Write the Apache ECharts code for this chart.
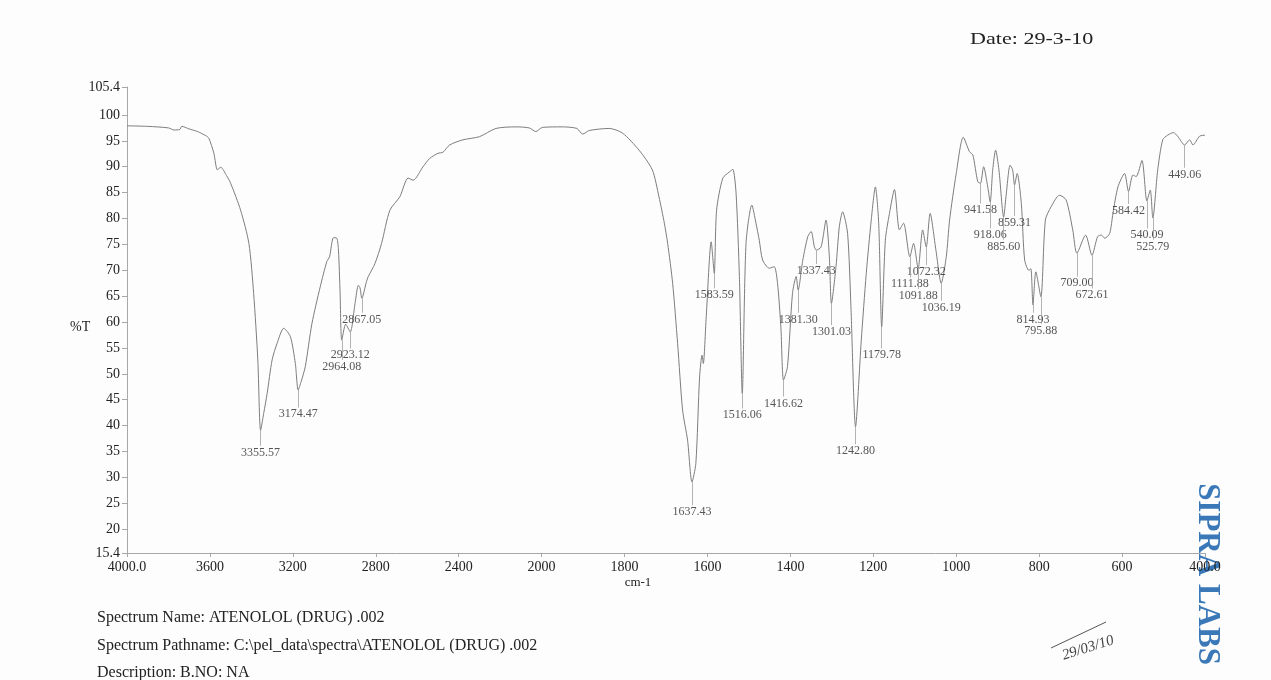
<!DOCTYPE html>
<html>
<head>
<meta charset="utf-8">
<title>ATENOLOL (DRUG) .002</title>
<script src="https://cdn.jsdelivr.net/npm/echarts@6/dist/echarts.min.js"></script>
<style>
html, body { margin: 0; padding: 0; background: #fdfdfd; }
#chart { width: 1271px; height: 680px; }
</style>
</head>
<body>
<div id="chart"></div>
<script>
// trace: wavenumber (cm-1) and %T
var waveNumbers = [
    4000, 3900, 3800, 3773, 3745, 3736, 3700, 3660, 3620, 3605,
    3581, 3564, 3548, 3520, 3500, 3452, 3412, 3389, 3369, 3355.57,
    3340, 3324, 3300, 3276, 3244, 3212, 3188, 3174.47, 3160, 3140,
    3108, 3068, 3036, 3023, 3004, 2988, 2980, 2972, 2964.08, 2945,
    2923.12, 2900, 2884, 2876, 2867.05, 2845, 2836, 2804, 2772, 2732,
    2684, 2644, 2620, 2572, 2540, 2500, 2476, 2444, 2380, 2300,
    2220, 2124, 2060, 2028, 1998, 1950, 1915, 1901, 1885, 1837,
    1805, 1765, 1733, 1717, 1704, 1696, 1684, 1672, 1660, 1648,
    1637.43, 1628, 1619, 1613, 1610, 1603, 1591, 1583.59, 1578, 1563,
    1547, 1539, 1531, 1523, 1516.06, 1507, 1493, 1483, 1475, 1467,
    1451, 1439, 1431, 1423, 1416.62, 1407, 1395, 1386, 1381.30, 1370,
    1358, 1350, 1342, 1337.43, 1326, 1314, 1306, 1301.03, 1290, 1282,
    1274, 1262, 1254, 1242.80, 1229, 1217, 1205, 1195, 1187, 1179.78,
    1171, 1161, 1149, 1137, 1127, 1111.88, 1103, 1091.88, 1081, 1072.32,
    1063, 1049, 1036.19, 1024, 1016, 1000, 983, 968, 960, 948,
    941.58, 934, 924, 918.06, 912, 905, 897, 885.60, 880, 870,
    864, 859.31, 853, 843, 835, 825, 820, 814.93, 808, 795.88,
    785, 771, 751, 735, 719, 709.00, 688, 672.61, 659, 650,
    642, 630, 622, 610, 594, 584.42, 574, 566, 552, 540.09,
    532, 525.79, 514, 502, 490, 476, 466, 449.06, 437, 429,
    413, 400
];
var transmittance = [
    97.9, 97.8, 97.5, 97.1, 97.2, 97.8, 97.3, 96.8, 96.0, 95.5,
    92.6, 89.4, 89.9, 88.3, 86.8, 81.6, 75.2, 65.5, 52.7, 39.1,
    42.5, 46.2, 52.7, 55.9, 58.8, 57.2, 52.0, 46.9, 48.5, 51.4,
    59.7, 66.8, 71.7, 72.6, 76.3, 76.2, 73.9, 65.5, 56.5, 59.6,
    58.1, 63.6, 67.1, 66.6, 64.6, 67.8, 68.8, 71.3, 75.2, 81.6,
    84.2, 87.8, 87.4, 90.0, 91.6, 92.6, 92.8, 94.2, 95.2, 95.8,
    97.4, 97.7, 97.5, 96.8, 97.6, 97.7, 97.4, 96.3, 97.0, 97.4,
    96.5, 93.2, 89.4, 84.2, 79.1, 75.2, 67.5, 55.9, 43.0, 37.2,
    29.1, 32.7, 49.4, 53.6, 52.0, 61.0, 75.5, 69.4, 81.6, 87.8,
    89.0, 89.5, 84.9, 68.8, 46.2, 75.2, 82.6, 79.1, 75.8, 72.0,
    70.4, 70.7, 67.5, 59.1, 48.8, 51.4, 65.5, 68.8, 66.2, 72.0,
    76.5, 77.5, 74.5, 73.9, 74.5, 79.7, 72.6, 63.6, 70.7, 78.4,
    81.3, 77.1, 63.0, 39.8, 56.5, 69.4, 79.7, 86.1, 79.1, 59.1,
    75.8, 81.0, 85.6, 77.8, 79.1, 72.6, 75.2, 70.4, 77.8, 74.5,
    81.0, 73.9, 67.5, 72.6, 79.7, 88.7, 95.7, 92.9, 92.3, 87.1,
    86.8, 90.0, 86.1, 83.2, 89.4, 93.2, 89.4, 80.3, 84.2, 90.3,
    89.4, 86.5, 88.7, 82.9, 72.0, 70.0, 70.3, 63.3, 69.7, 64.9,
    79.7, 82.3, 84.5, 83.6, 77.8, 73.3, 76.8, 72.9, 76.5, 76.8,
    76.2, 77.1, 81.0, 86.1, 88.7, 85.2, 88.4, 88.1, 91.2, 83.4,
    85.5, 80.1, 89.4, 95.2, 96.1, 96.6, 95.9, 94.2, 95.2, 94.2,
    95.9, 96.1
];

// picked peaks and the %T level where each label sits
var peakNumbers = [
    3355.57, 3174.47, 2964.08, 2923.12, 2867.05, 1637.43, 1583.59, 1516.06,
    1416.62, 1381.30, 1337.43, 1301.03, 1242.80, 1179.78, 1111.88, 1091.88,
    1072.32, 1036.19, 941.58, 918.06, 885.60, 859.31, 814.93, 795.88,
    709.00, 672.61, 584.42, 540.09, 525.79, 449.06
];
var peakLabelLevels = [
    34.8, 42.2, 51.4, 53.6, 60.5, 23.3, 65.2, 42.0,
    44.3, 60.5, 69.9, 58.1, 35.1, 53.6, 67.3, 65.1,
    69.7, 62.8, 81.6, 76.8, 74.6, 79.2, 60.5, 58.3,
    67.5, 65.2, 81.5, 76.8, 74.6, 88.5
];

var xTickLabels = [4000, 3600, 3200, 2800, 2400, 2000, 1800, 1600, 1400, 1200, 1000, 800, 600, 400];
var yTickLabels = [15.4, 20, 25, 30, 35, 40, 45, 50, 55, 60, 65, 70, 75, 80, 85, 90, 95, 100, 105.4];

// the instrument halves the scale above 2000 cm-1
function toAxis(w) { return w > 2000 ? 2000 + (w - 2000) / 2 : w; }
function fromAxis(u) { return u > 2000 ? 2000 + (u - 2000) * 2 : u; }

function peakT(w) {
    for (var i = 0; i < waveNumbers.length; i++) {
        if (Math.abs(waveNumbers[i] - w) < 0.01) return transmittance[i];
    }
    return null;
}

var serif = '"Liberation Serif", "Times New Roman", serif';

var trace = waveNumbers.map(function (w, i) { return [toAxis(w), transmittance[i]]; });
var peakLabels = peakNumbers.map(function (w, i) {
    return { name: w.toFixed(2), value: [toAxis(w), peakLabelLevels[i]] };
});
var leaders = peakNumbers.map(function (w, i) {
    var u = toAxis(w);
    return [{ coord: [u, peakT(w)] }, { coord: [u, peakLabelLevels[i] + 1.3] }];
});
var xTicks = xTickLabels.map(toAxis);

var option = {
    backgroundColor: '#fdfdfd',
    animation: false,
    textStyle: { fontFamily: serif },
    grid: { left: 127, right: 66, top: 87, bottom: 127 },
    xAxis: {
        type: 'value',
        inverse: true,
        min: 400,
        max: 3000,
        axisLine: { lineStyle: { color: '#a8a8a8', width: 1 } },
        axisTick: { show: true, length: 4, customValues: xTicks, lineStyle: { color: '#a8a8a8' } },
        axisLabel: {
            customValues: xTicks,
            margin: 7,
            color: '#222',
            fontSize: 14,
            fontFamily: serif,
            formatter: function (v) {
                var w = Math.round(fromAxis(v));
                return (w === 4000 || w === 400) ? w.toFixed(1) : String(w);
            }
        },
        splitLine: { show: false }
    },
    yAxis: {
        type: 'value',
        min: 15.4,
        max: 105.4,
        axisLine: { show: true, lineStyle: { color: '#a8a8a8', width: 1 } },
        axisTick: { show: true, length: 5, customValues: yTickLabels, lineStyle: { color: '#a8a8a8' } },
        axisLabel: {
            customValues: yTickLabels,
            margin: 7,
            color: '#222',
            fontSize: 14,
            fontFamily: serif
        },
        splitLine: { show: false }
    },
    series: [
        {
            type: 'line',
            data: trace,
            showSymbol: false,
            smooth: 0.25,
            lineStyle: { color: '#7d7d7d', width: 1 },
            z: 2
        },
        {
            type: 'scatter',
            data: peakLabels,
            symbolSize: 0,
            itemStyle: { color: 'transparent' },
            label: {
                show: true,
                position: 'inside',
                formatter: '{b}',
                color: '#2a2a2a',
                fontSize: 12,
                fontFamily: serif
            },
            markLine: {
                silent: true,
                symbol: ['none', 'none'],
                label: { show: false },
                lineStyle: { color: '#a0a0a0', width: 0.8, type: 'solid' },
                data: leaders
            },
            z: 3
        }
    ],
    graphic: [
        { type: 'text', x: 970, y: 40, scaleX: 1.3, style: { text: 'Date: 29-3-10', font: '17px ' + serif, fill: '#222', verticalAlign: 'middle' } },
        { type: 'text', x: 70, y: 327, style: { text: '%T', font: '14px ' + serif, fill: '#222', verticalAlign: 'middle' } },
        { type: 'text', x: 638, y: 583, style: { text: 'cm-1', font: '13px ' + serif, fill: '#222', align: 'center', verticalAlign: 'middle' } },
        { type: 'text', x: 97, y: 618, style: { text: 'Spectrum Name: ATENOLOL (DRUG) .002', font: '16px ' + serif, fill: '#222', verticalAlign: 'middle' } },
        { type: 'text', x: 97, y: 646, style: { text: 'Spectrum Pathname: C:\\pel_data\\spectra\\ATENOLOL (DRUG) .002', font: '16px ' + serif, fill: '#222', verticalAlign: 'middle' } },
        { type: 'text', x: 97, y: 673, style: { text: 'Description: B.NO: NA', font: '16px ' + serif, fill: '#222', verticalAlign: 'middle' } },
        {
            type: 'text', x: 1207, y: 574, rotation: -Math.PI / 2,
            style: { text: 'SIPRA LABS', font: 'bold 31px ' + serif, fill: '#3a78b8', align: 'center', verticalAlign: 'middle' }
        },
        { type: 'line', shape: { x1: 1051, y1: 648, x2: 1106, y2: 622 }, style: { stroke: '#555', lineWidth: 1 } },
        {
            type: 'text', x: 1088, y: 648, rotation: 0.3,
            style: { text: '29/03/10', font: 'italic 15px ' + serif, fill: '#444', align: 'center', verticalAlign: 'middle' }
        }
    ]
};

var chart = echarts.init(document.getElementById('chart'));
chart.setOption(option);
</script>
</body>
</html>
